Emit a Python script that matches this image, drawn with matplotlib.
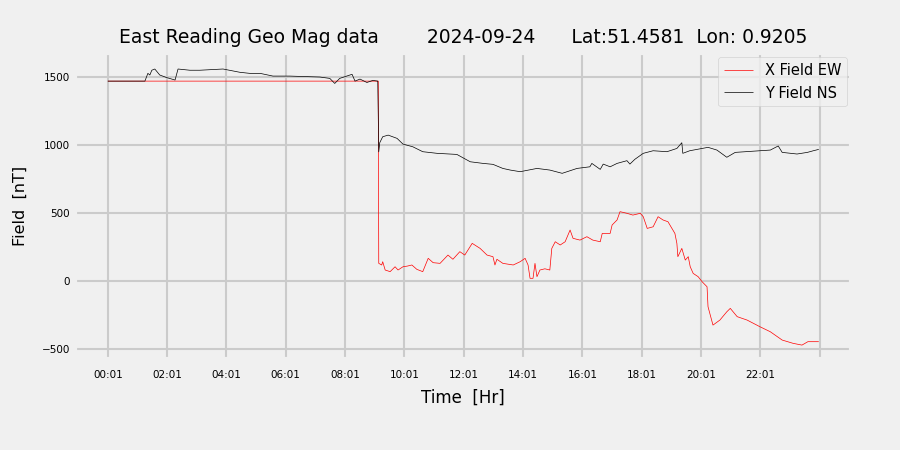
import numpy as np
import matplotlib
matplotlib.use('Agg')
import matplotlib.pyplot as plt

# minutes since midnight / field values
x_min = [1, 548, 549, 555, 557, 562, 572, 582, 588, 598, 607, 616, 626, 638, 649, 659, 673,
         689, 699, 713, 723, 738, 754, 768, 780, 784, 788, 800, 821, 835, 845, 851, 855,
         861, 865, 869, 875, 885, 895, 899, 906, 916, 926, 936, 942, 956, 970, 982, 997,
         1001, 1017, 1021, 1031, 1037, 1051, 1063, 1078, 1084, 1092, 1104, 1114, 1124,
         1134, 1148, 1152, 1154, 1162, 1169, 1175, 1179, 1185, 1195, 1203, 1213, 1215,
         1225, 1239, 1253, 1260, 1274, 1294, 1320, 1341, 1365, 1387, 1405, 1417, 1439]
x_val = [1470, 1470, 130, 118, 142, 81, 69, 105, 81, 105, 110, 118, 86, 69, 167, 135, 130,
         191, 160, 216, 191, 277, 240, 191, 179, 118, 160, 130, 118, 142, 167, 118, 20,
         20, 130, 32, 81, 90, 81, 240, 289, 265, 289, 375, 314, 301, 326, 301, 289,
         350, 350, 412, 449, 510, 498, 485, 498, 473, 387, 399, 473, 449,
         436, 350, 277, 179, 240, 154, 179, 105, 56, 32, -5, -42, -189,
         -324, -287, -226, -201, -262, -287, -336, -373, -434, -458, -471, -446, -446]

y_min = [1, 76, 82, 86, 90, 96, 106, 120, 137, 143, 167, 187, 234, 268, 288, 309, 335,
         369, 430, 450, 460, 470, 495, 501, 511, 525, 537, 547, 549, 551, 557, 568, 586,
         598, 618, 638, 667, 707, 734, 760, 780, 800, 815, 835, 869, 895, 920, 950, 976,
         980, 997, 1003, 1017, 1031, 1051, 1057, 1067, 1084, 1104, 1132, 1152, 1162, 1164,
         1178, 1215, 1233, 1253, 1270, 1320, 1341, 1357, 1365, 1395, 1416, 1428, 1439]
y_val = [1470, 1470, 1527, 1515, 1550, 1559, 1515, 1496, 1478, 1559, 1550, 1550, 1559, 1535,
         1527, 1527, 1507, 1507, 1500, 1490, 1453, 1490, 1520, 1470, 1485, 1460, 1475, 1470,
         950, 1017, 1061, 1073, 1049, 1007, 987, 951, 939, 931, 877, 865, 858, 828, 816, 804,
         828, 816, 792, 828, 840, 865, 821, 860, 840, 865, 885, 860, 895, 939, 958, 951, 975,
         1017, 939, 958, 983, 963, 910, 946, 958, 963, 993, 946, 934, 946, 958, 968]

tick_min = list(range(1, 1442, 120))
tick_lab = ['00:01', '02:01', '04:01', '06:01', '08:01', '10:01', '12:01',
            '14:01', '16:01', '18:01', '20:01', '22:01', '']

plt.style.use('fivethirtyeight')
fig = plt.figure(figsize=(9, 4.5), dpi=100)
ax = fig.add_axes([0.083, 0.202, 0.863, 0.68])

ax.plot(x_min, x_val, color='red', linewidth=0.5, label='X Field EW')
ax.plot(y_min, y_val, color='black', linewidth=0.5, label='Y Field NS')

ax.set_xlim(-66, 1505)
ax.set_ylim(-574, 1676)
ax.set_xticks(tick_min)
ax.set_xticklabels(tick_lab, fontsize=7.5)
ax.set_yticks([-500, 0, 500, 1000, 1500])
ax.tick_params(axis='y', labelsize=7.5)
ax.tick_params(axis='x', pad=8)
ax.grid(True, linewidth=1.5)

ax.set_title('East Reading Geo Mag data        2024-09-24      Lat:51.4581  Lon: 0.9205',
             fontsize=13.5, pad=7)
ax.set_xlabel('Time  [Hr]', fontsize=12, labelpad=6)
ax.set_ylabel('Field  [nT]', fontsize=11.5, labelpad=10)
ax.legend(loc='upper right', fontsize=10.5, borderaxespad=0.3)

fig.savefig('out.png', dpi=100)
